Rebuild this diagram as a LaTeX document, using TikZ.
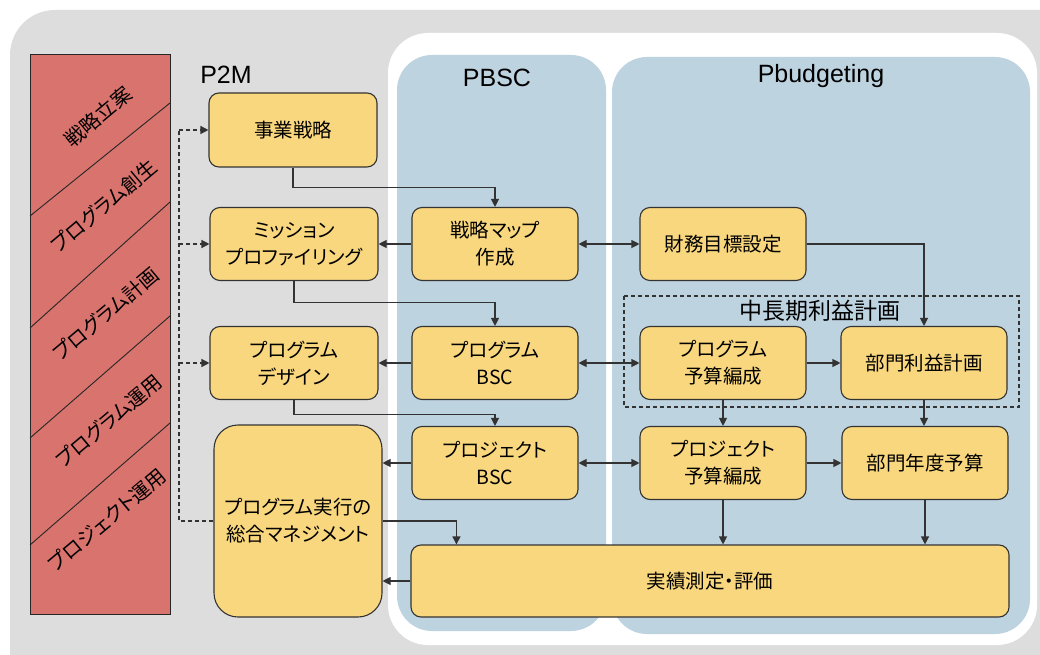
\documentclass[tikz,border=0pt]{standalone}
\usepackage{fontspec}
\setmainfont{Noto Sans CJK JP}[RawFeature=+palt]
\newfontfamily\arialf{Liberation Sans}
\usetikzlibrary{arrows.meta,calc}
\definecolor{bggray}{HTML}{DDDDDD}
\definecolor{bluep}{HTML}{BED3E0}
\definecolor{yelb}{HTML}{F9D77E}
\definecolor{redb}{HTML}{D9736E}
\definecolor{lnc}{HTML}{333333}
\tikzset{
  ybox/.style={draw=lnc, fill=yelb, line width=1.1pt, rounded corners=10pt,
    minimum width=166pt, minimum height=73pt, align=center, inner sep=2pt,
    font=\fontsize{19.5}{27}\selectfont},
  arr/.style={draw=lnc, line width=1.1pt, -{Triangle[length=8pt,width=8pt]}},
  darr/.style={draw=lnc, line width=1.1pt, {Triangle[length=8pt,width=8pt]}-{Triangle[length=8pt,width=8pt]}},
  plain/.style={draw=lnc, line width=1.1pt},
  dsh/.style={draw=lnc, line width=1.3pt, dash pattern=on 4pt off 3pt},
  ttl/.style={font=\arialf\fontsize{25}{25}\selectfont},
  bantxt/.style={rotate=40, inner sep=0pt, font=\fontsize{20}{20}\selectfont},
}
\begin{document}
\begin{tikzpicture}[x=1pt,y=-1pt]
\useasboundingbox (0,0) rectangle (1040,655);
\clip (0,0) rectangle (1040,655);
% backgrounds
\fill[white] (0,0) rectangle (1040,655);
\fill[bggray, rounded corners=45pt] (10,10) rectangle (1110,720);
\fill[white, rounded corners=40pt] (388,33) rectangle (1037,645);
\fill[bluep, rounded corners=35pt] (397,55) rectangle (606,631);
\fill[bluep, rounded corners=35pt] (612,57) rectangle (1030,634);

% red banner
\filldraw[fill=redb, draw=black!85, line width=1pt] (30,55) rectangle (170,614);
\draw[black!85, line width=0.9pt] (30,216) -- (170,103);
\draw[black!85, line width=0.9pt] (30,328) -- (170,202);
\draw[black!85, line width=0.9pt] (30,438) -- (170,316);
\draw[black!85, line width=0.9pt] (30,545) -- (170,423);
\node[bantxt] (b1) at (98,117) {戦略立案};
\node[bantxt] (b2) at (104,206) {プログラム創生};
\node[bantxt] (b3) at (106,314) {プログラム計画};
\node[bantxt] (b4) at (109,421) {プログラム運用};
\node[bantxt] (b5) at (107,520) {プロジェクト運用};

% titles
\node[ttl] (tp2m) at (226,75) {P2M};
\node[ttl] (tpbsc) at (497,78) {PBSC};
\node[ttl] (tpbud) at (821,76) {Pbudgeting};

% dashed group
\draw[dsh] (624,296) rectangle (1019,407);
\node[font=\fontsize{23}{23}\selectfont] (mlp) at (820,311) {中長期利益計画};

% P2M boxes
\node[ybox, minimum width=168pt, minimum height=74pt] (jg) at (293,130) {事業戦略};
\node[ybox, minimum width=168pt] (mp) at (294,244) {ミッション\\プロファイリング};
\node[ybox, minimum width=168pt] (pd) at (294,363) {プログラム\\デザイン};
\node[ybox, minimum width=168pt, minimum height=192pt, rounded corners=24pt] (sm) at (298,521) {プログラム実行の\\総合マネジメント};

% PBSC boxes
\node[ybox] (smap) at (495,244) {戦略マップ\\作成};
\node[ybox] (pbsc) at (495,363) {プログラム\\BSC};
\node[ybox] (pjbsc) at (495,463) {プロジェクト\\BSC};

% Pbudgeting boxes
\node[ybox] (zm) at (723,244) {財務目標設定};
\node[ybox] (pyh) at (723,363) {プログラム\\予算編成};
\node[ybox] (brk) at (924,363) {部門利益計画};
\node[ybox] (pjyh) at (723,463) {プロジェクト\\予算編成};
\node[ybox] (bny) at (925,463) {部門年度予算};
\node[ybox, minimum width=598pt, minimum height=72pt] (jsk) at (710,581) {実績測定・評価};

% connectors P2M -> PBSC
\draw[arr] (jg.south) -- ++(0,20) -| (smap.north);
\draw[arr] (mp.south) -- ++(0,21.5) -| (pbsc.north);
\draw[arr] (pd.south) -- ++(0,14) -| (pjbsc.north);

% PBSC -> P2M
\draw[arr] (smap.west) -- (smap.west -| mp.east);
\draw[arr] (pbsc.west) -- (pbsc.west -| pd.east);
\draw[arr] (pjbsc.west) -- (pjbsc.west -| sm.east);
\draw[arr] (jsk.west) -- (jsk.west -| sm.east);
\coordinate (jskin) at ($(jsk.north west)+(46,0)$);
\draw[arr] (sm.east) -| (jskin);

% PBSC <-> Pbudgeting
\draw[darr] (smap.east) -- (zm.west);
\draw[darr] (pbsc.east) -- (pyh.west);
\draw[darr] (pjbsc.east) -- (pjyh.west);

% Pbudgeting internal
\draw[arr] (zm.east) -| (brk.north);
\draw[arr] (pyh.east) -- (brk.west);
\draw[arr] (pjyh.east) -- (bny.west);
\draw[arr] (pyh.south) -- (pjyh.north);
\draw[arr] (brk.south) -- (brk.south |- bny.north);
\draw[arr] (pjyh.south) -- (pjyh.south |- jsk.north);
\draw[arr] (bny.south) -- (bny.south |- jsk.north);

% dashed feedback
\coordinate (dx) at (179,0);
\draw[dsh] (sm.west) -| (dx |- jg.west);
\draw[dsh, -{Triangle[length=8pt,width=8pt]}] (dx |- jg.west) -- (jg.west);
\draw[dsh, -{Triangle[length=8pt,width=8pt]}] (dx |- mp.west) -- (mp.west);
\draw[dsh, -{Triangle[length=8pt,width=8pt]}] (dx |- pd.west) -- (pd.west);
\end{tikzpicture}
\end{document}
